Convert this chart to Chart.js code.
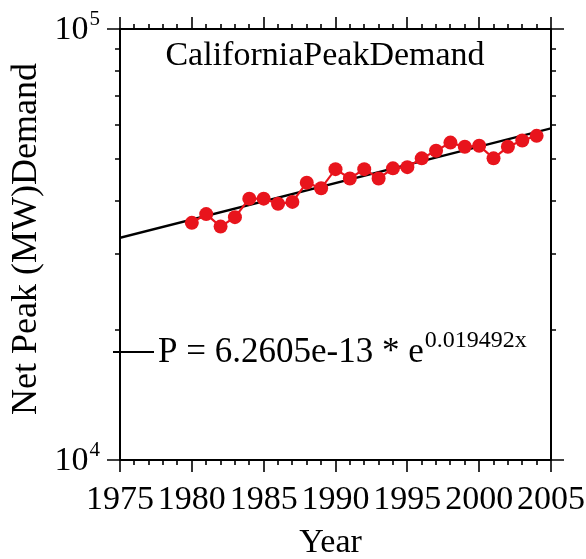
<!DOCTYPE html>
<html lang="en">
<head>
    <meta charset="UTF-8">
    <title>California Peak Demand</title>
    <script src="https://cdn.jsdelivr.net/npm/chart.js"></script>
    <style>
        body {
            margin: 0;
            background: #ffffff;
        }
        #chartContainer {
            width: 586px;
            height: 559px;
        }
    </style>
</head>
<body>
    <div id="chartContainer">
        <canvas id="demandChart" width="586" height="559"></canvas>
    </div>

    <script>
        // Net peak demand in MW, one value per year
        const years = [1980, 1981, 1982, 1983, 1984, 1985, 1986, 1987, 1988, 1989,
                       1990, 1991, 1992, 1993, 1994, 1995, 1996, 1997, 1998, 1999,
                       2000, 2001, 2002, 2003, 2004];
        const peakDemand = [35500, 37200, 34800, 36600, 40400, 40400, 39300, 39700, 44000, 42700,
                            47300, 45000, 47300, 45000, 47500, 47800, 50100, 52200, 54500, 53300,
                            53600, 50100, 53300, 55100, 56500];

        // exponential fit P = A * e^(B * year)
        const fitA = 6.2605e-13;
        const fitB = 0.019492;
        const fitYears = [1975, 2005];

        const yearTicks = [1975, 1980, 1985, 1990, 1995, 2000, 2005];
        const decadeTicks = [1e4, 1e5];

        const SERIF = '"Liberation Serif", "Times New Roman", serif';
        const RED = '#e8141c';

        const demandPoints = years.map((yr, i) => ({ x: yr, y: peakDemand[i] }));
        const fitPoints = fitYears.map(yr => ({ x: yr, y: fitA * Math.exp(fitB * yr) }));

        // frame, ticks, labels and the fit equation
        const axesPlugin = {
            id: 'axesPlugin',
            afterDraw(chart) {
                const ctx = chart.ctx;
                const area = chart.chartArea;
                const xs = chart.scales.x;
                const ys = chart.scales.y;
                ctx.save();
                ctx.strokeStyle = '#000';
                ctx.fillStyle = '#000';
                ctx.lineWidth = 2;
                ctx.strokeRect(area.left, area.top, area.right - area.left, area.bottom - area.top);

                ctx.lineWidth = 1.6;
                ctx.beginPath();
                for (let yr = xs.min; yr <= xs.max; yr++) {
                    const px = Math.round(xs.getPixelForValue(yr));
                    const len = yr % 5 === 0 ? 12 : 5;
                    ctx.moveTo(px, area.bottom);
                    ctx.lineTo(px, area.bottom + len);
                    ctx.moveTo(px, area.top);
                    ctx.lineTo(px, area.top - len);
                }
                for (let v = 1e4; v <= 1e5; v += 1e4) {
                    const py = Math.round(ys.getPixelForValue(v));
                    const len = decadeTicks.includes(v) ? 13 : 5;
                    ctx.moveTo(area.left, py);
                    ctx.lineTo(area.left - len, py);
                    ctx.moveTo(area.right, py);
                    ctx.lineTo(area.right + len, py);
                }
                ctx.stroke();

                // year labels
                ctx.font = '34px ' + SERIF;
                ctx.textAlign = 'center';
                ctx.textBaseline = 'alphabetic';
                yearTicks.forEach(yr => {
                    ctx.fillText(String(yr), xs.getPixelForValue(yr), area.bottom + 49);
                });

                // 10^n labels
                decadeTicks.forEach(v => {
                    const py = ys.getPixelForValue(v);
                    const exp = String(Math.round(Math.log10(v)));
                    ctx.font = '34px ' + SERIF;
                    const wBase = ctx.measureText('10').width;
                    ctx.font = '21px ' + SERIF;
                    const wExp = ctx.measureText(exp).width;
                    const x0 = area.left - 21 - wBase - wExp;
                    ctx.textAlign = 'left';
                    ctx.font = '34px ' + SERIF;
                    ctx.fillText('10', x0, py + 10);
                    ctx.font = '21px ' + SERIF;
                    ctx.fillText(exp, x0 + wBase + 1, py - 4);
                });

                // axis titles
                ctx.font = '34px ' + SERIF;
                ctx.textAlign = 'center';
                ctx.fillText('Year', (area.left + area.right) / 2 - 5, 552);
                ctx.save();
                ctx.font = '36px ' + SERIF;
                ctx.translate(36, 239);
                ctx.rotate(-Math.PI / 2);
                ctx.fillText('Net Peak (MW)Demand', 0, 0);
                ctx.restore();

                // chart title inside the frame
                ctx.font = '34px ' + SERIF;
                ctx.fillText('CaliforniaPeakDemand', 325, area.top + 36);

                // fit key line and equation
                const keyY = area.top + 323;
                ctx.lineWidth = 2;
                ctx.beginPath();
                ctx.moveTo(area.left - 7, keyY);
                ctx.lineTo(area.left + 34, keyY);
                ctx.stroke();
                ctx.textAlign = 'left';
                ctx.font = '35px ' + SERIF;
                const eq = 'P = ' + fitA.toExponential(4) + ' * e';
                ctx.fillText(eq, area.left + 38, keyY + 10);
                const wEq = ctx.measureText(eq).width;
                ctx.font = '24px ' + SERIF;
                ctx.fillText(fitB + 'x', area.left + 38 + wEq + 1, keyY - 5);
                ctx.restore();
            }
        };

        const ctx = document.getElementById('demandChart').getContext('2d');
        const demandChart = new Chart(ctx, {
            type: 'line',
            data: {
                datasets: [
                    {
                        label: 'Fit',
                        data: fitPoints,
                        borderColor: '#000',
                        borderWidth: 2.4,
                        pointRadius: 0,
                        fill: false,
                        order: 2
                    },
                    {
                        label: 'Net Peak Demand',
                        data: demandPoints,
                        borderColor: RED,
                        backgroundColor: RED,
                        borderWidth: 2.2,
                        pointRadius: 7,
                        pointBorderWidth: 0,
                        pointBackgroundColor: RED,
                        fill: false,
                        order: 1
                    }
                ]
            },
            options: {
                responsive: false,
                animation: false,
                layout: {
                    padding: { left: 120, top: 29, right: 35, bottom: 99 }
                },
                plugins: {
                    legend: { display: false },
                    tooltip: { enabled: false }
                },
                scales: {
                    x: {
                        type: 'linear',
                        min: 1975,
                        max: 2005,
                        display: false
                    },
                    y: {
                        type: 'logarithmic',
                        min: 1e4,
                        max: 1e5,
                        display: false
                    }
                }
            },
            plugins: [axesPlugin]
        });
    </script>
</body>
</html>
